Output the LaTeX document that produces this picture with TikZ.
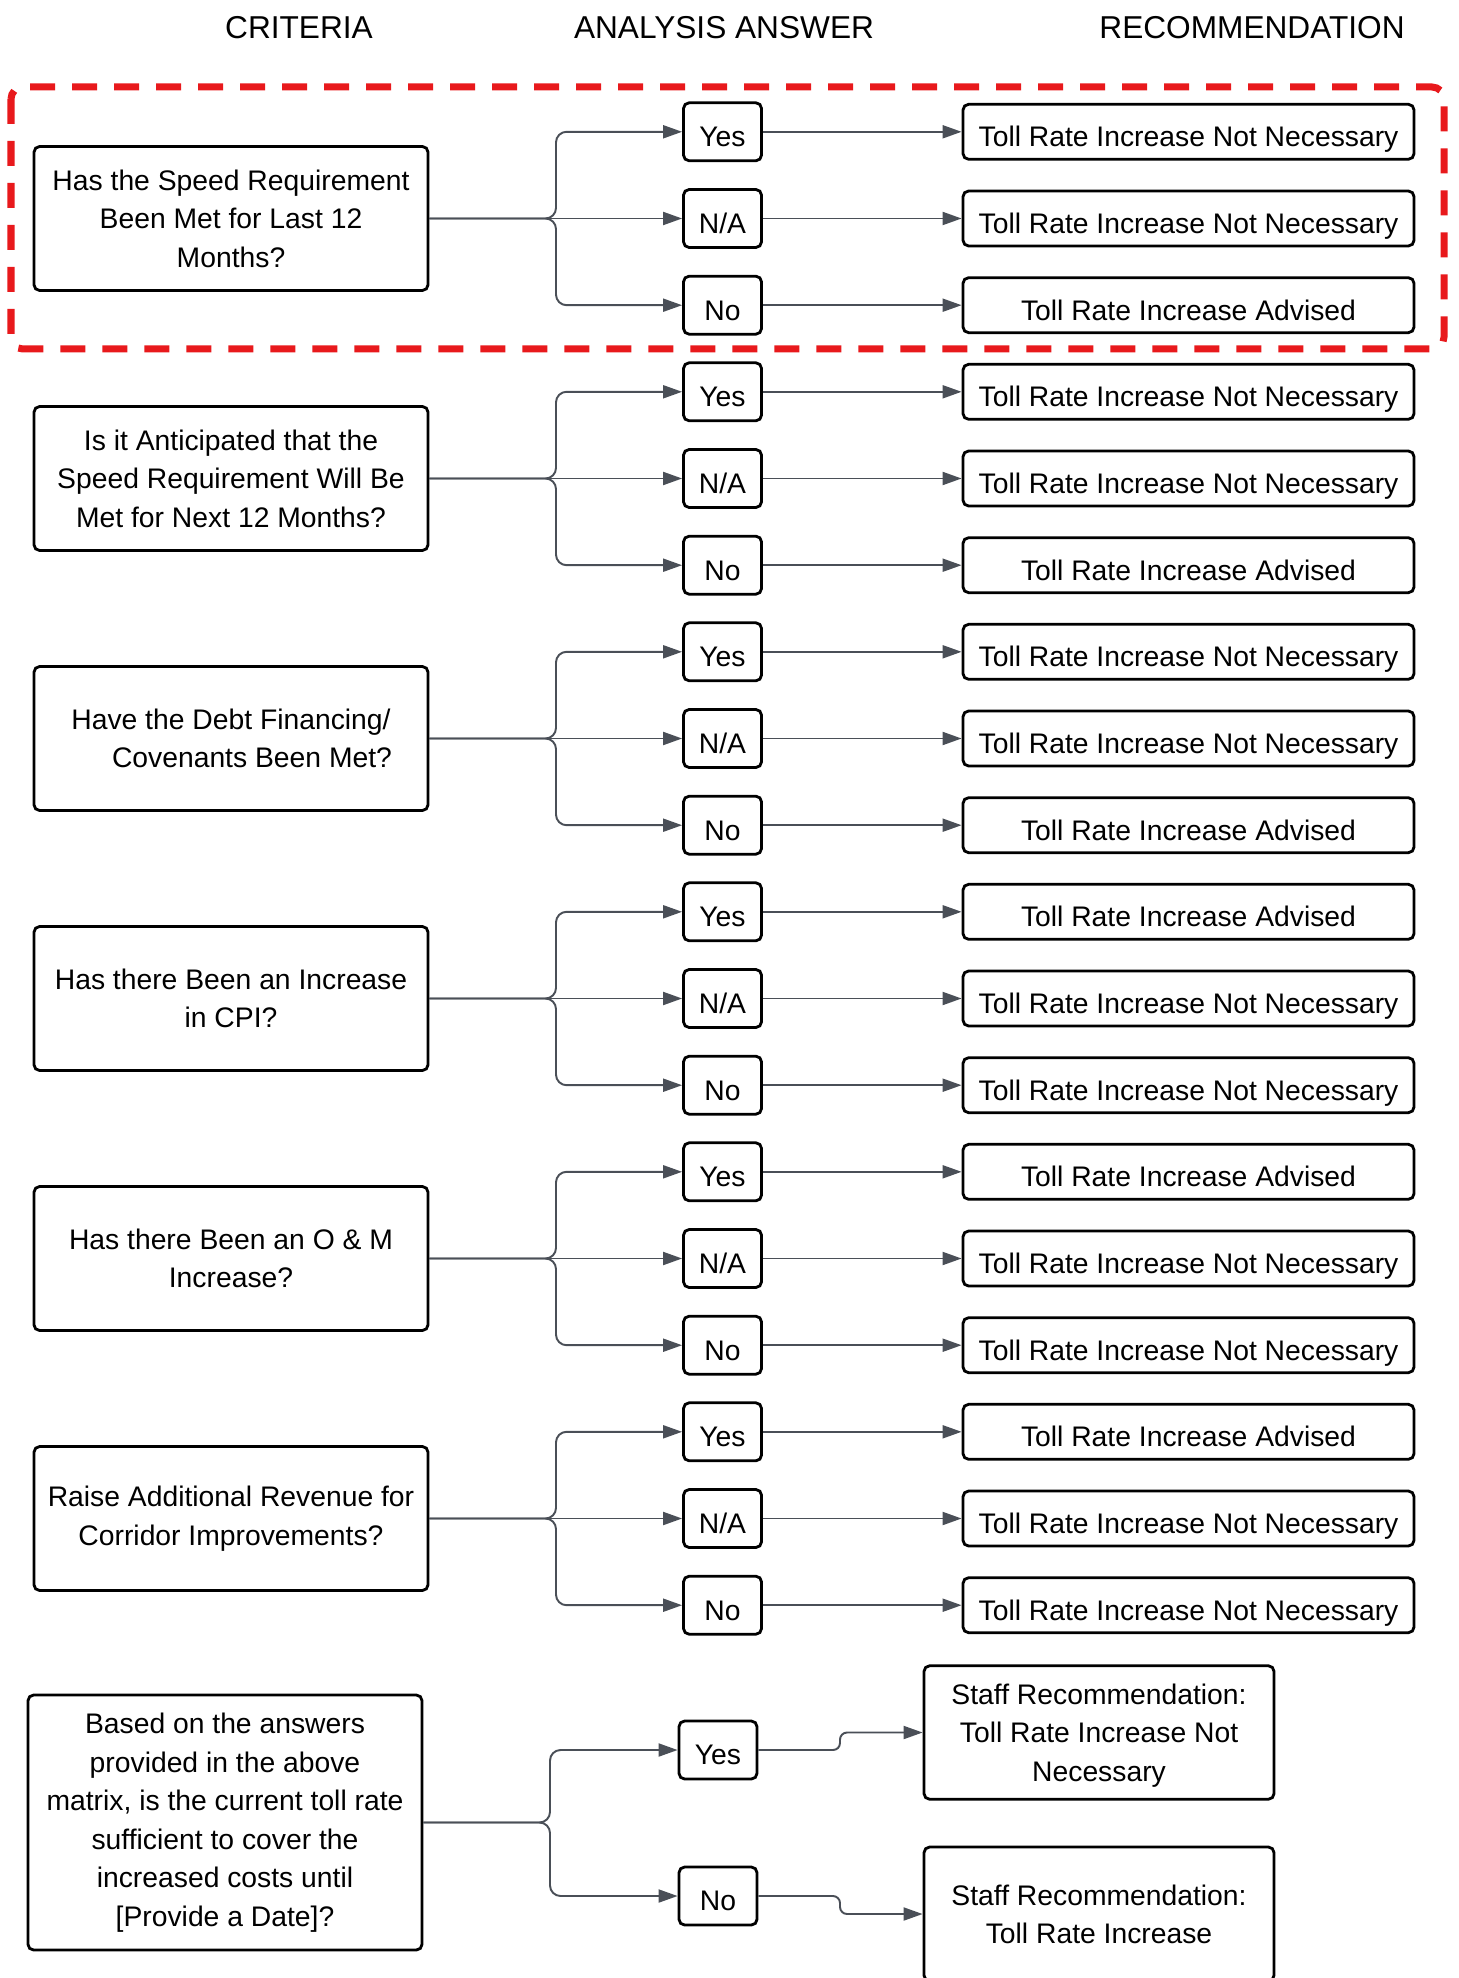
\documentclass[tikz,border=0pt]{standalone}
\usepackage{fontspec}
\setmainfont{Liberation Sans}
\usetikzlibrary{arrows.meta,positioning}
\definecolor{lineColor}{HTML}{4A4F57}
\definecolor{frameColor}{HTML}{E8191C}
\tikzset{
	box/.style={draw=black, line width=0.8pt, rounded corners=1.6pt, inner sep=0, align=center},
	qbox/.style={box, minimum width=3.94cm, minimum height=1.44cm},
	abox/.style={box, minimum width=0.78cm, minimum height=0.58cm, text height=8.5pt, text depth=0pt},
	rbox/.style={box, minimum width=4.51cm, minimum height=0.55cm, text height=8.5pt, text depth=0pt},
	sbox/.style={box, minimum width=3.5cm, minimum height=1.335cm, text depth=0pt},
	conn/.style={->, draw=lineColor, line width=0.55pt, rounded corners=3pt},
	head/.style={font=\fontsize{9.0}{11}\selectfont}
}
% one criteria row: name, y of its Yes answer, question, the three recommendations
\newcommand{\crit}[6]{
	\node[qbox] (q#1) at (2.31, #2-0.867) {#3};
	\coordinate (b#1) at (5.56, #2-0.867);
	\node[abox] (a#1_1) at (7.225, #2) {Yes};
	\node[abox] (a#1_2) at (7.225, #2-0.867) {N/A};
	\node[abox] (a#1_3) at (7.225, #2-1.734) {No};
	\node[rbox] (r#1_1) at (11.885, #2) {#4};
	\node[rbox] (r#1_2) at (11.885, #2-0.867) {#5};
	\node[rbox] (r#1_3) at (11.885, #2-1.734) {#6};
	\draw[conn] (q#1.east) -- (b#1) |- (a#1_1.west);
	\draw[conn] (q#1.east) -- (a#1_2.west);
	\draw[conn] (q#1.east) -- (b#1) |- (a#1_3.west);
	\path (a#1_1) edge[conn] (r#1_1);
	\path (a#1_2) edge[conn] (r#1_2);
	\path (a#1_3) edge[conn] (r#1_3);
}
\newcommand{\nn}{Toll Rate Increase Not Necessary}
\newcommand{\adv}{Toll Rate Increase Advised}

\begin{document}
\begin{tikzpicture}[>={Triangle[length=0.19cm,width=0.13cm]},
		font=\fontsize{8.05}{10.95}\selectfont]
	\useasboundingbox (0,0) rectangle (14.58,-19.78);
	\node[head] (h1) at (2.99,-0.28) {CRITERIA};
	\node[head] (h2) at (7.24,-0.28) {ANALYSIS ANSWER};
	\node[head] (h3) at (12.52,-0.28) {RECOMMENDATION};
	\draw[frameColor, line width=0.07cm, dash pattern=on 0.25cm off 0.17cm, rounded corners=0.12cm] (0.11,-0.87) rectangle (14.44,-3.49);
	\crit{1}{-1.318}{Has the Speed Requirement\\Been Met for Last 12\\Months?}{\nn}{\nn}{\adv}
	\crit{2}{-3.918}{Is it Anticipated that the\\Speed Requirement Will Be\\Met for Next 12 Months?}{\nn}{\nn}{\adv}
	\crit{3}{-6.518}{Have the Debt Financing/\\\hspace*{0.42cm}Covenants Been Met?}{\nn}{\nn}{\adv}
	\crit{4}{-9.118}{Has there Been an Increase\\in CPI?}{\adv}{\nn}{\nn}
	\crit{5}{-11.718}{Has there Been an O \& M\\Increase?}{\adv}{\nn}{\nn}
	\crit{6}{-14.318}{Raise Additional Revenue for\\Corridor Improvements?}{\adv}{\nn}{\nn}
	% final decision
	\node[qbox, minimum height=2.55cm] (q7) at (2.25,-18.225) {Based on the answers\\provided in the above\\matrix, is the current toll rate\\sufficient to cover the\\increased costs until\\{[Provide a Date]?}};
	\coordinate (b7) at (5.50,-18.225);
	\node[abox] (a7_1) at (7.18,-17.50) {Yes};
	\node[abox] (a7_2) at (7.18,-18.96) {No};
	\coordinate (s7_1) at (8.40,-17.50);
	\coordinate (s7_2) at (8.40,-18.96);
	\node[sbox] (r7_1) at (10.99,-17.325) {Staff Recommendation:\\Toll Rate Increase Not\\Necessary};
	\node[sbox, minimum height=1.34cm] (r7_2) at (10.99,-19.14) {Staff Recommendation:\\Toll Rate Increase};
	\draw[conn] (q7.east) -- (b7) |- (a7_1.west);
	\draw[conn] (q7.east) -- (b7) |- (a7_2.west);
	\draw[conn, rounded corners=2pt] (a7_1.east) -- (s7_1) |- (r7_1.west);
	\draw[conn, rounded corners=2pt] (a7_2.east) -- (s7_2) |- (r7_2.west);
\end{tikzpicture}
\end{document}
